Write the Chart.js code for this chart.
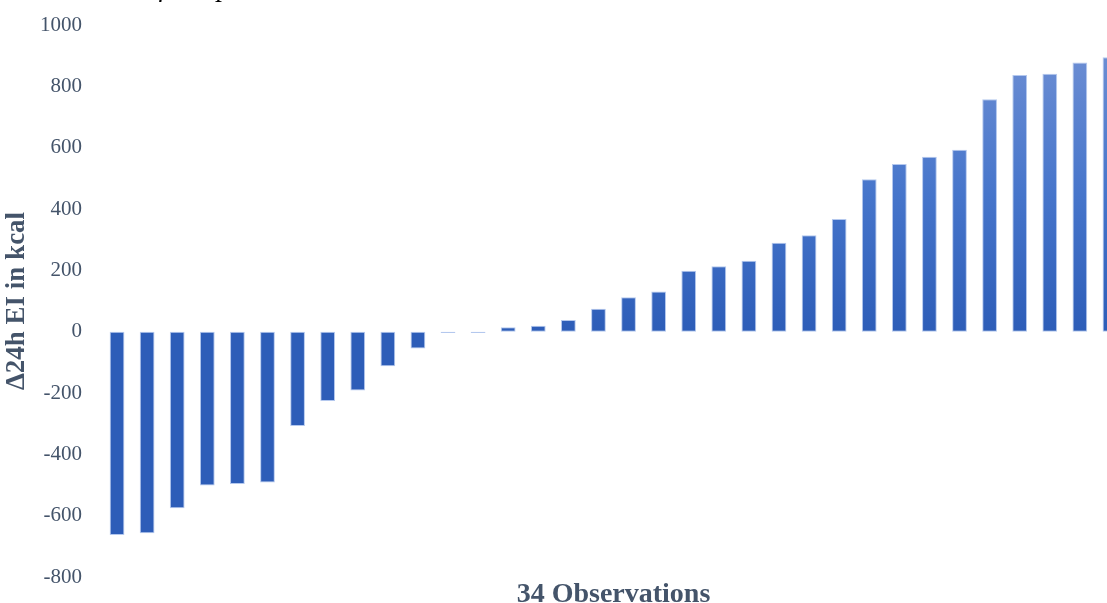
<!DOCTYPE html>
<html>
<head>
<meta charset="utf-8">
<script src="https://cdn.jsdelivr.net/npm/chart.js@4/dist/chart.umd.min.js"></script>
<style>
  html, body { margin: 0; padding: 0; background: #ffffff; overflow: hidden; }
  #wrap { position: relative; width: 1107px; height: 603px; overflow: hidden; }
  #caption {
    position: absolute; left: 0; top: -27px; width: 292px;
    text-align: right; white-space: nowrap;
    font: italic 28px/28px "Liberation Serif", "Times New Roman", serif; color: #000;
  }
  canvas { position: absolute; left: 0; top: 0; }
</style>
</head>
<body>
<div id="wrap">
  <canvas id="c" width="1130" height="603"></canvas>
  <div id="caption">the duration of sleep restriction.</div>
</div>
<script>
// Change in 24h energy intake per observation, sorted ascending
const observations = ['1','2','3','4','5','6','7','8','9','10','11','12','13','14','15','16','17',
  '18','19','20','21','22','23','24','25','26','27','28','29','30','31','32','33','34'];
const deltaEI = [-663, -657, -576, -502, -497, -492, -308, -226, -192, -113, -55, -4, -4,
  14, 19, 38, 75, 112, 131, 199, 213, 231, 290, 314, 367, 497, 547, 570, 593,
  758, 837, 841, 878, 895];
const yTicks = [-800, -600, -400, -200, 0, 200, 400, 600, 800, 1000];

const textColor = '#44546a';
const serif = '"Liberation Serif", "Times New Roman", serif';

// Each bar gets its own vertical gradient, light at its top edge, dark at its bottom edge
const barGradient = {
  id: 'barGradient',
  beforeDatasetsDraw(chart) {
    const ctx = chart.ctx;
    chart.getSortedVisibleDatasetMetas().forEach(meta => {
      meta.data.forEach(el => {
        const top = Math.min(el.y, el.base);
        const bottom = Math.max(el.y, el.base);
        const g = ctx.createLinearGradient(0, top, 0, bottom + 0.01);
        g.addColorStop(0, '#6b8dd3');
        g.addColorStop(0.5, '#4675cb');
        g.addColorStop(1, '#2d5db8');
        el.options.backgroundColor = g;
      });
    });
  }
};

new Chart(document.getElementById('c'), {
  type: 'bar',
  data: {
    labels: observations,
    datasets: [{
      data: deltaEI,
      backgroundColor: '#4675cb',
      borderColor: 'rgba(172,194,236,0.9)',
      borderWidth: 1,
      borderSkipped: false,
      barPercentage: 0.49,
      categoryPercentage: 1
    }]
  },
  options: {
    responsive: false,
    animation: false,
    events: [],
    layout: { padding: { left: 4, right: 5, top: 25, bottom: -6 } },
    plugins: { legend: { display: false }, tooltip: { enabled: false } },
    scales: {
      x: {
        type: 'category',
        grid: { display: false, drawTicks: false },
        border: { display: false },
        ticks: { display: false },
        title: {
          display: true,
          text: '34 Observations',
          color: textColor,
          font: { family: serif, size: 28, weight: 'bold', lineHeight: 1 },
          padding: { top: 4, bottom: 0 }
        }
      },
      y: {
        min: -800,
        max: 1000,
        afterFit(scale) { scale.width = 98; },
        afterBuildTicks(scale) { scale.ticks = yTicks.map(v => ({ value: v })); },
        // tick marks are not drawn; their length only sets the gap to the labels
        grid: { display: false, drawTicks: true, tickLength: 20 },
        border: { display: false },
        ticks: {
          color: textColor,
          padding: 0,
          font: { family: serif, size: 21 },
          callback: v => String(v)
        },
        title: {
          display: true,
          text: 'Δ24h EI in kcal',
          color: textColor,
          font: { family: serif, size: 27, weight: 'bold', lineHeight: 1 },
          padding: { top: 0, bottom: 0 }
        }
      }
    }
  },
  plugins: [barGradient]
});
</script>
</body>
</html>
